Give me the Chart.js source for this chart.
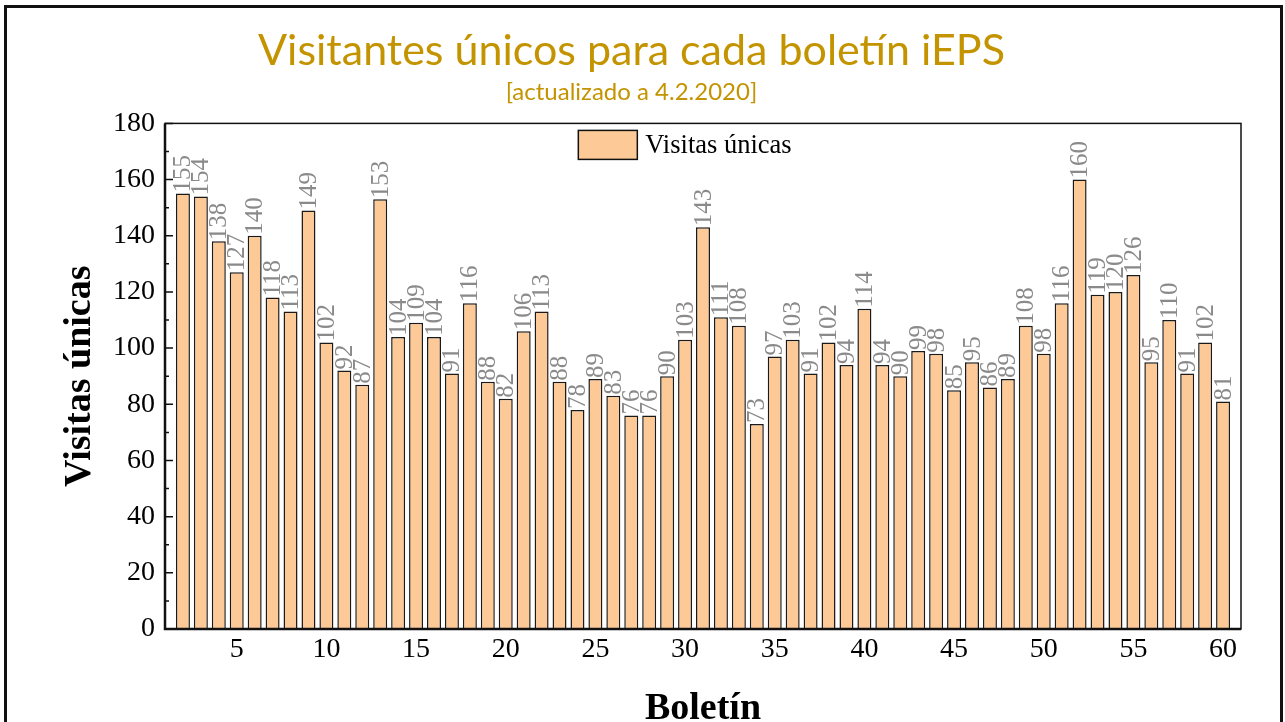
<!DOCTYPE html>
<html>
<head>
<meta charset="utf-8">
<script src="https://cdn.jsdelivr.net/npm/chart.js@4.4.1/dist/chart.umd.min.js"></script>
<style>
  html, body { margin: 0; padding: 0; background: #fff; overflow: hidden; }
  #frame { position: absolute; left: 4px; top: 5px; width: 1279px; height: 800px; border: 3px solid #111; box-sizing: border-box; }
  #wrap { position: absolute; left: 0; top: 0; width: 1285px; height: 760px; }
</style>
</head>
<body>
<div id="frame"></div>
<div id="wrap"><canvas id="visitasChart" width="1285" height="760"></canvas></div>
<script>
// Boletín number and unique visits
const boletines = [2, 3, 4, 5, 6, 7, 8, 9, 10, 11, 12, 13, 14, 15, 16, 17, 18, 19, 20, 21,
  22, 23, 24, 25, 26, 27, 28, 29, 30, 31, 32, 33, 34, 35, 36, 37, 38, 39, 40, 41,
  42, 43, 44, 45, 46, 47, 48, 49, 50, 51, 52, 53, 54, 55, 56, 57, 58, 59, 60];
const visitas = [155, 154, 138, 127, 140, 118, 113, 149, 102, 92, 87, 153, 104, 109, 104, 91, 116, 88, 82, 106,
  113, 88, 78, 89, 83, 76, 76, 90, 103, 143, 111, 108, 73, 97, 103, 91, 102, 94, 114, 94,
  90, 99, 98, 85, 95, 86, 89, 108, 98, 116, 160, 119, 120, 126, 95, 110, 91, 102, 81];

const xTicks = [5, 10, 15, 20, 25, 30, 35, 40, 45, 50, 55, 60];
const yTicks = [0, 20, 40, 60, 80, 100, 120, 140, 160, 180];
const yMinorTicks = [10, 30, 50, 70, 90, 110, 130, 150, 170];

const SERIF = '"Liberation Serif", "Times New Roman", serif';
const GOLD = '#C49400';

// axis lines + inward ticks, drawn over the bars
const axisFrame = {
  id: 'axisFrame',
  afterDatasetsDraw(chart) {
    const { ctx, chartArea: a, scales: { y } } = chart;
    ctx.save();
    ctx.strokeStyle = '#111';
    ctx.lineWidth = 1.5;
    ctx.strokeRect(a.left, a.top, a.right - a.left, a.bottom - a.top);
    ctx.beginPath();
    yTicks.forEach(v => {
      const py = y.getPixelForValue(v);
      ctx.moveTo(a.left, py); ctx.lineTo(a.left + 8, py);
    });
    yMinorTicks.forEach(v => {
      const py = y.getPixelForValue(v);
      ctx.moveTo(a.left, py); ctx.lineTo(a.left + 4, py);
    });
    ctx.stroke();
    ctx.lineWidth = 2.5;
    ctx.beginPath();
    ctx.moveTo(a.left, a.top); ctx.lineTo(a.left, a.bottom); ctx.lineTo(a.right, a.bottom);
    ctx.stroke();
    ctx.restore();
  }
};

// vertical value labels on top of each bar
const barLabels = {
  id: 'barLabels',
  afterDatasetsDraw(chart) {
    const { ctx } = chart;
    const meta = chart.getDatasetMeta(0);
    const values = chart.data.datasets[0].data;
    ctx.save();
    ctx.font = '25px ' + SERIF;
    ctx.fillStyle = '#8a8a8a';
    ctx.textAlign = 'left';
    ctx.textBaseline = 'middle';
    meta.data.forEach((bar, i) => {
      ctx.save();
      ctx.translate(bar.x, bar.y);
      ctx.rotate(-Math.PI / 2);
      ctx.fillText(String(values[i].y), 1, 1);
      ctx.restore();
    });
    ctx.restore();
  }
};

// legend box inside the plot, near the top
const innerLegend = {
  id: 'innerLegend',
  afterDraw(chart) {
    const { ctx, chartArea: a } = chart;
    const ds = chart.data.datasets[0];
    ctx.save();
    ctx.font = '26.5px ' + SERIF;
    const tw = ctx.measureText(ds.label).width;
    const bw = 59, bh = 29, gap = 8;
    const x0 = (a.left + a.right) / 2 - 18 - (bw + gap + tw) / 2;
    const y0 = a.top + 7;
    ctx.fillStyle = ds.backgroundColor;
    ctx.fillRect(x0, y0, bw, bh);
    ctx.strokeStyle = '#111';
    ctx.lineWidth = 1.5;
    ctx.strokeRect(x0, y0, bw, bh);
    ctx.fillStyle = '#000';
    ctx.textBaseline = 'middle';
    ctx.fillText(ds.label, x0 + bw + gap, y0 + bh / 2 + 1);
    ctx.restore();
  }
};

new Chart(document.getElementById('visitasChart'), {
  type: 'bar',
  data: {
    datasets: [{
      label: 'Visitas únicas',
      data: boletines.map((b, i) => ({ x: b, y: visitas[i] })),
      backgroundColor: '#FDC997',
      borderColor: '#1a1a1a',
      borderWidth: 1.5,
      borderSkipped: 'bottom',
      barPercentage: 0.78,
      categoryPercentage: 1
    }]
  },
  options: {
    responsive: false,
    animation: false,
    layout: { padding: { top: 0, right: 44, bottom: 0, left: 22 } },
    scales: {
      x: {
        type: 'linear',
        offset: false,
        min: 1,
        max: 61,
        afterBuildTicks: (scale) => { scale.ticks = xTicks.map(v => ({ value: v })); },
        afterFit: (scale) => { scale.height = 131; },
        grid: { display: false, drawTicks: false },
        border: { display: false },
        ticks: { color: '#000', padding: 4, maxRotation: 0, font: { family: SERIF, size: 28 } },
        title: {
          display: true,
          text: 'Boletín',
          color: '#000',
          padding: { top: 0, bottom: 28 },
          font: { family: SERIF, size: 38, weight: 'bold' }
        }
      },
      y: {
        min: 0,
        max: 180,
        afterBuildTicks: (scale) => { scale.ticks = yTicks.map(v => ({ value: v })); },
        afterFit: (scale) => { scale.width = 143; },
        grid: { display: false, drawTicks: false },
        border: { display: false },
        ticks: { color: '#000', padding: 10, font: { family: SERIF, size: 28 } },
        title: {
          display: true,
          text: 'Visitas únicas',
          color: '#000',
          padding: { top: 35, bottom: 0 },
          font: { family: SERIF, size: 38, weight: 'bold' }
        }
      }
    },
    plugins: {
      legend: { display: false },
      tooltip: { enabled: false },
      title: {
        display: true,
        text: 'Visitantes únicos para cada boletín iEPS',
        color: GOLD,
        padding: { top: 25, bottom: 0 },
        font: { family: 'Lato', size: 43, weight: 'normal' }
      },
      subtitle: {
        display: true,
        text: '[actualizado a 4.2.2020]',
        color: GOLD,
        padding: { top: 1, bottom: 17 },
        font: { family: 'Lato', size: 24, weight: 'normal' }
      }
    }
  },
  plugins: [axisFrame, barLabels, innerLegend]
});
</script>
</body>
</html>
